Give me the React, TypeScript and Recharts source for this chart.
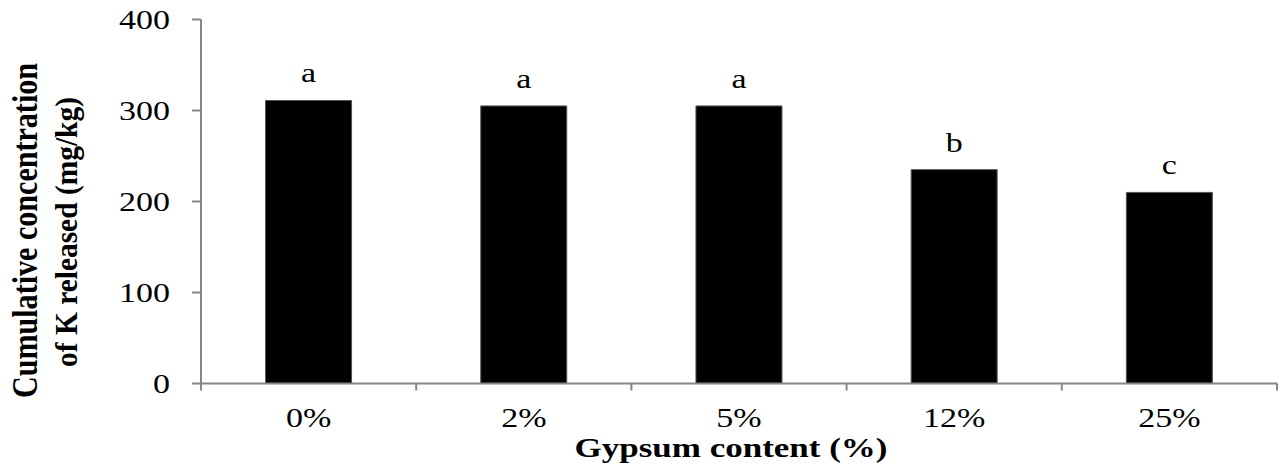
import React from 'react';
import { BarChart, Bar, XAxis, YAxis, LabelList } from 'recharts';

const categories = ['0%', '2%', '5%', '12%', '25%'];
const released = [311, 305, 305, 235, 210];
const letters = ['a', 'a', 'a', 'b', 'c'];
const yTicks = [0, 100, 200, 300, 400];

const data = categories.map((c, i) => ({ gypsum: c, k: released[i], letter: letters[i] }));

const W = 1281;
const H = 467;
const LEFT = 201;
const TOP = 19.5;
const AXIS_Y = 383.5;
const BAND = (1277 - LEFT) / categories.length;
const FONT = '"Liberation Serif", "Times New Roman", serif';
const AXIS_COLOR = '#868686';
const SX = 1.26; // the picture is stretched sideways

const XTick = (props: any) => {
  const { x, index } = props;
  const half = props.payload && props.payload.offset > 0 ? props.payload.offset : BAND / 2;
  return (
    <g>
      <line x1={x - half} x2={x - half} y1={AXIS_Y} y2={AXIS_Y + 7} stroke={AXIS_COLOR} strokeWidth={2} />
      {index === categories.length - 1 && (
        <line x1={x + half} x2={x + half} y1={AXIS_Y} y2={AXIS_Y + 7} stroke={AXIS_COLOR} strokeWidth={2} />
      )}
      <text
        transform={`translate(${x},${AXIS_Y + 43.5}) scale(${SX},1)`}
        textAnchor="middle"
        fontFamily={FONT}
        fontSize={27}
        fill="#000"
      >
        {props.payload.value}
      </text>
    </g>
  );
};

const YTick = (props: any) => (
  <text
    transform={`translate(${LEFT - 31},${props.y + 9}) scale(${SX},1)`}
    textAnchor="end"
    fontFamily={FONT}
    fontSize={27}
    fill="#000"
  >
    {props.payload.value}
  </text>
);

const Letter = (props: any) => {
  const { x, y, width, value } = props;
  return (
    <text
      transform={`translate(${x + width / 2},${y - 18}) scale(${SX},1)`}
      textAnchor="middle"
      fontFamily={FONT}
      fontSize={27}
      fill="#000"
    >
      {value}
    </text>
  );
};

const YTitle = () => (
  <g fontFamily={FONT} fontWeight="bold" fill="#000">
    <text
      transform={`translate(37,230.5) rotate(-90) scale(1,${SX})`}
      textAnchor="middle"
      fontSize={28}
      textLength={335}
      lengthAdjust="spacingAndGlyphs"
    >
      Cumulative concentration
    </text>
    <text
      transform={`translate(77,232) rotate(-90) scale(1,${SX})`}
      textAnchor="middle"
      fontSize={25}
      textLength={270}
      lengthAdjust="spacingAndGlyphs"
    >
      of K released (mg/kg)
    </text>
  </g>
);

const XTitle = () => (
  <text
    x={731}
    y={457}
    textAnchor="middle"
    fontFamily={FONT}
    fontWeight="bold"
    fontSize={27}
    textLength={313}
    lengthAdjust="spacingAndGlyphs"
    fill="#000"
  >
    Gypsum content (%)
  </text>
);

export default function App() {
  return (
    <div style={{ position: 'absolute', left: 0, top: 0, background: '#fff' }}>
      <BarChart
        width={W}
        height={H}
        data={data}
        margin={{ top: TOP, right: 4, bottom: 0, left: 0 }}
        barCategoryGap="30%"
      >
        <XAxis
          dataKey="gypsum"
          height={H - AXIS_Y}
          axisLine={{ stroke: AXIS_COLOR, strokeWidth: 2 }}
          tickLine={false}
          tick={<XTick />}
          interval={0}
          label={{ content: () => <XTitle /> }}
        />
        <YAxis
          width={LEFT}
          domain={[0, 400]}
          ticks={yTicks}
          axisLine={{ stroke: AXIS_COLOR, strokeWidth: 2 }}
          tickLine={{ stroke: AXIS_COLOR, strokeWidth: 2 }}
          tickSize={9}
          tick={<YTick />}
          label={{ content: () => <YTitle /> }}
        />
        <Bar dataKey="k" fill="#000" stroke="#555" strokeWidth={1} isAnimationActive={false}>
          <LabelList dataKey="letter" content={<Letter />} />
        </Bar>
      </BarChart>
    </div>
  );
}
